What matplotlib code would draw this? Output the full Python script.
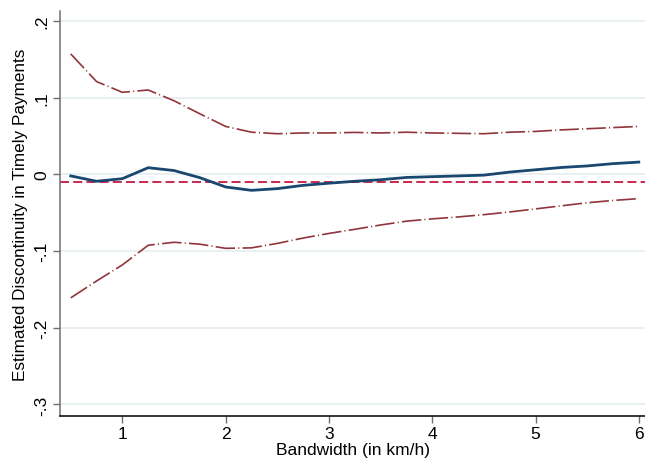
import matplotlib
matplotlib.use("Agg")
import matplotlib.pyplot as plt

plt.rcParams['font.family'] = ['Liberation Sans', 'DejaVu Sans']
plt.rcParams['lines.scale_dashes'] = False

bandwidth = [0.5, 0.75, 1.0, 1.25, 1.5, 1.75, 2.0, 2.25, 2.5, 2.75, 3.0, 3.25,
             3.5, 3.75, 4.0, 4.25, 4.5, 4.75, 5.0, 5.25, 5.5, 5.75, 6.0]
estimate = [-0.002, -0.009, -0.0056, 0.0087, 0.005, -0.0043, -0.0164, -0.0208,
            -0.0186, -0.0143, -0.0115, -0.009, -0.007, -0.004, -0.003, -0.002,
            -0.001, 0.003, 0.006, 0.009, 0.011, 0.014, 0.016]
upper_ci = [0.157, 0.121, 0.107, 0.110, 0.096, 0.079, 0.0625, 0.055, 0.053,
            0.054, 0.054, 0.0547, 0.054, 0.055, 0.054, 0.0535, 0.053, 0.055,
            0.056, 0.058, 0.0595, 0.061, 0.0625]
lower_ci = [-0.161, -0.139, -0.118, -0.0924, -0.0885, -0.091, -0.0964, -0.0958,
            -0.090, -0.083, -0.077, -0.0716, -0.066, -0.061, -0.058, -0.0555,
            -0.0525, -0.049, -0.045, -0.041, -0.037, -0.034, -0.0316]
ref_line = -0.0104
yticks = [0.2, 0.1, 0.0, -0.1, -0.2, -0.3]
ytick_labels = ['.2', '.1', '0', '-.1', '-.2', '-.3']
xticks = [1, 2, 3, 4, 5, 6]
xlabel = 'Bandwidth (in km/h)'
ylabel = 'Estimated Discontinuity in Timely Payments'

fig = plt.figure(figsize=(6.45, 4.64), dpi=100)
ax = fig.add_axes([60/645, (464-417.3)/464, (645-60)/645, (417.3-12)/464])

for y in yticks:
    ax.axhline(y, color='#e9f0f2', lw=1.4, zorder=0)

ax.plot(bandwidth, upper_ci, color='#90353b', lw=1.2, dashes=(14, 2.3, 0.8, 2.3))
ax.plot(bandwidth, lower_ci, color='#90353b', lw=1.2, dashes=(14, 2.3, 0.8, 2.3))
ax.axhline(ref_line, color='#c10534', lw=1.2, dashes=(6.5, 3))
ax.plot(bandwidth, estimate, color='#1a476f', lw=2.0)

ax.set_xlim(0.396, 6.06)
ax.set_ylim(-0.3154, 0.213)
ax.set_xticks(xticks)
ax.set_xticklabels([str(x) for x in xticks])
ax.set_yticks(yticks)
ax.set_yticklabels(ytick_labels, rotation=90, va='center')

for s in ['top', 'right']:
    ax.spines[s].set_visible(False)
ax.spines['left'].set_color('#707070')
ax.spines['left'].set_linewidth(1.1)
ax.spines['bottom'].set_color('black')
ax.spines['bottom'].set_linewidth(1.1)
ax.tick_params(axis='y', colors='#707070', labelcolor='black', length=5, width=1, labelsize=12.5, pad=3)
ax.tick_params(axis='x', colors='#707070', labelcolor='black', length=5, width=1, labelsize=12.5, pad=2)

ax.set_xlabel(xlabel, fontsize=12.5, labelpad=1)
ax.set_ylabel(ylabel, fontsize=12.3, labelpad=4)

fig.savefig('out.png', dpi=100, facecolor='white')
